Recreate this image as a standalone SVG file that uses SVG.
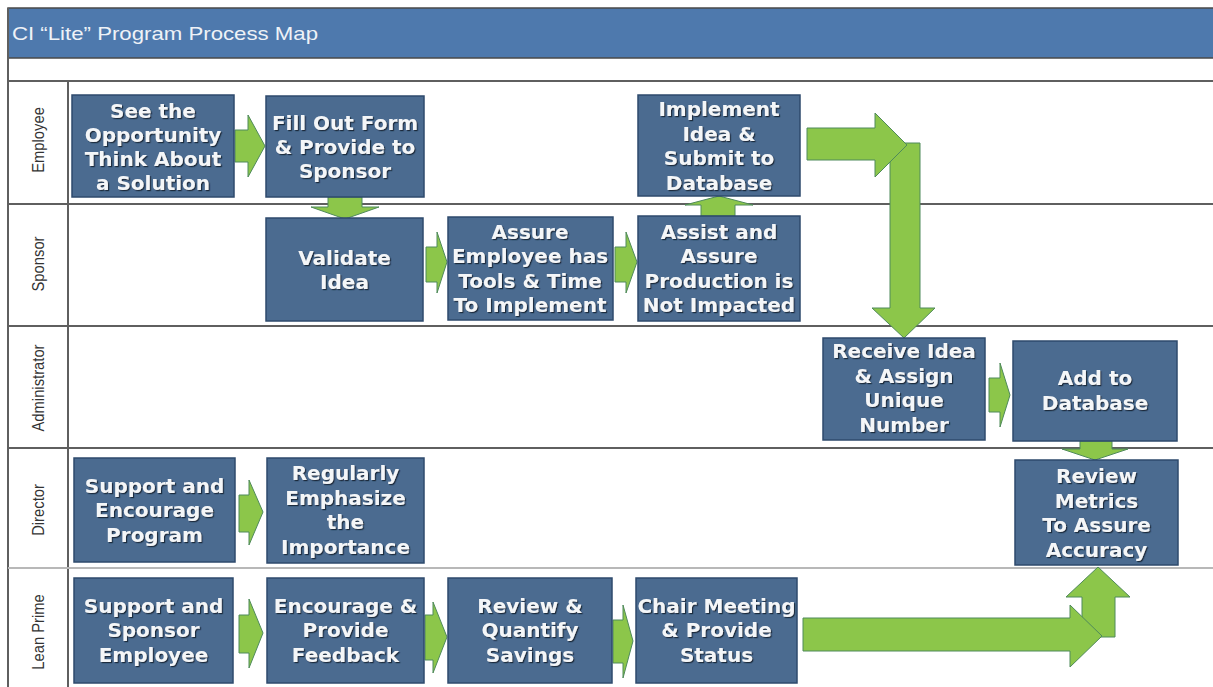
<svg xmlns="http://www.w3.org/2000/svg" width="1213" height="687" viewBox="0 0 1213 687">
<defs>
<filter id="sh" x="-10%" y="-10%" width="120%" height="130%">
<feDropShadow dx="1.2" dy="1.2" stdDeviation="0.6" flood-color="#142235" flood-opacity="0.9"/>
</filter>
<style>
.grid{stroke:#5f5f5f;stroke-width:2;fill:none}
.lane{font-family:"Liberation Sans",Arial,sans-serif;font-size:17px;fill:#333;text-anchor:middle}
.box{fill:#4b6b90;stroke:#2e4a6c;stroke-width:1.5}
.t{font-family:"DejaVu Sans",Verdana,sans-serif;font-weight:bold;font-size:20px;fill:#f4f6f8;text-anchor:middle;filter:url(#sh)}
.arr{fill:#8cc64a;stroke:#4f8a5a;stroke-width:1}
</style>
</defs>
<rect width="1213" height="687" fill="#ffffff"/>
<g id="header">
<rect x="8" y="8" width="1206" height="50" fill="#4e79ad" stroke="#4a4a4a" stroke-width="1.5"/>
<text x="12" y="40" font-family="Liberation Sans,Arial,sans-serif" font-size="19" fill="#eef2f7" textLength="306" lengthAdjust="spacingAndGlyphs">CI “Lite” Program Process Map</text>
</g>
<g id="lanes">
<line class="grid" x1="8" y1="8" x2="8" y2="687"/>
<line class="grid" x1="68" y1="82" x2="68" y2="687"/>
<line class="grid" x1="8" y1="81" x2="1213" y2="81"/>
<line class="grid" x1="8" y1="204" x2="1213" y2="204"/>
<line class="grid" x1="8" y1="326" x2="1213" y2="326"/>
<line class="grid" x1="8" y1="448" x2="1213" y2="448"/>
<line x1="8" y1="568" x2="1213" y2="568" stroke="#b8b8b8" stroke-width="2"/>
<text class="lane" transform="translate(44,140) rotate(-90) scale(0.87,1)">Employee</text>
<text class="lane" transform="translate(44,264) rotate(-90) scale(0.87,1)">Sponsor</text>
<text class="lane" transform="translate(44,388) rotate(-90) scale(0.87,1)">Administrator</text>
<text class="lane" transform="translate(44,510) rotate(-90) scale(0.87,1)">Director</text>
<text class="lane" transform="translate(44,632) rotate(-90) scale(0.87,1)">Lean Prime</text>
</g>
<g id="connectors">
<polygon class="arr" points="235,130 248,130 248,115 265,146 248,177 248,162 235,162"/>
<polygon class="arr" points="328,197 362,197 362,207 379,207 345,219 311,207 328,207"/>
<polygon class="arr" points="426,247 437,247 437,232 447,262 437,293 437,282 426,282"/>
<polygon class="arr" points="615,247 626,247 626,232 637,262 626,293 626,282 615,282"/>
<polygon class="arr" points="701,216 701,205 685,205 719,196 753,205 735,205 735,216"/>
<polygon class="arr" points="890,143 920,143 920,308 935,308 904,338 872,308 890,308"/>
<polygon class="arr" points="807,128 875,128 875,113 907,145 875,177 875,160 807,160"/>
<polygon class="arr" points="989,378 1000,378 1000,363 1010,395 1000,427 1000,412 989,412"/>
<polygon class="arr" points="1080,441 1112,441 1112,449 1128,449 1095,460 1062,449 1080,449"/>
<polygon class="arr" points="1082,637 1082,597 1066,597 1098,567 1130,597 1115,597 1115,637"/>
<polygon class="arr" points="803,618 1070,618 1070,605 1102,636 1070,667 1070,651 803,651"/>
<polygon class="arr" points="239,495 249,495 249,480 263,512 249,545 249,532 239,532"/>
<polygon class="arr" points="239,615 249,615 249,599 263,633 249,668 249,653 239,653"/>
<polygon class="arr" points="425,615 433,615 433,602 447,637 433,673 433,660 425,660"/>
<polygon class="arr" points="613,620 623,620 623,605 633,641 623,678 623,663 613,663"/>
</g>
<g id="n-see">
<rect class="box" x="72" y="95" width="162" height="102"/>
<text class="t"><tspan x="153" y="118">See the</tspan><tspan x="153" y="142">Opportunity</tspan><tspan x="153" y="166">Think  About</tspan><tspan x="153" y="190">a Solution</tspan></text>
</g>
<g id="n-fill">
<rect class="box" x="266" y="96" width="158" height="101"/>
<text class="t"><tspan x="345" y="130">Fill  Out Form</tspan><tspan x="345" y="154">&amp; Provide to</tspan><tspan x="345" y="178">Sponsor</tspan></text>
</g>
<g id="n-implement">
<rect class="box" x="638" y="95" width="162" height="101"/>
<text class="t"><tspan x="719" y="116">Implement</tspan><tspan x="719" y="140.5">Idea &amp;</tspan><tspan x="719" y="165">Submit  to</tspan><tspan x="719" y="189.5">Database</tspan></text>
</g>
<g id="n-validate">
<rect class="box" x="266" y="218" width="157" height="103"/>
<text class="t"><tspan x="344.5" y="265">Validate</tspan><tspan x="344.5" y="289">Idea</tspan></text>
</g>
<g id="n-assure">
<rect class="box" x="448" y="217" width="165" height="103"/>
<text class="t"><tspan x="530" y="238.5">Assure</tspan><tspan x="530" y="263">Employee has</tspan><tspan x="530" y="287.5">Tools &amp; Time</tspan><tspan x="530" y="312">To Implement</tspan></text>
</g>
<g id="n-assist">
<rect class="box" x="638" y="216" width="162" height="105"/>
<text class="t"><tspan x="719" y="238.5">Assist  and</tspan><tspan x="719" y="263">Assure</tspan><tspan x="719" y="287.5">Production is</tspan><tspan x="719" y="312">Not Impacted</tspan></text>
</g>
<g id="n-receive">
<rect class="box" x="823" y="338" width="162" height="102"/>
<text class="t"><tspan x="904" y="358">Receive Idea</tspan><tspan x="904" y="382.5">&amp; Assign</tspan><tspan x="904" y="407">Unique</tspan><tspan x="904" y="431.5">Number</tspan></text>
</g>
<g id="n-add">
<rect class="box" x="1013" y="341" width="164" height="100"/>
<text class="t"><tspan x="1095" y="385">Add to</tspan><tspan x="1095" y="410">Database</tspan></text>
</g>
<g id="n-support-dir">
<rect class="box" x="74" y="458" width="161" height="104"/>
<text class="t"><tspan x="154.5" y="492.5">Support  and</tspan><tspan x="154.5" y="517">Encourage</tspan><tspan x="154.5" y="541.5">Program</tspan></text>
</g>
<g id="n-regularly">
<rect class="box" x="267" y="458" width="157" height="105"/>
<text class="t"><tspan x="345.5" y="480">Regularly</tspan><tspan x="345.5" y="504.5">Emphasize</tspan><tspan x="345.5" y="529">the</tspan><tspan x="345.5" y="553.5">Importance</tspan></text>
</g>
<g id="n-review-metrics">
<rect class="box" x="1015" y="460" width="163" height="105"/>
<text class="t"><tspan x="1096.5" y="483">Review</tspan><tspan x="1096.5" y="507.5">Metrics</tspan><tspan x="1096.5" y="532">To Assure</tspan><tspan x="1096.5" y="556.5">Accuracy</tspan></text>
</g>
<g id="n-support-lean">
<rect class="box" x="74" y="578" width="159" height="105"/>
<text class="t"><tspan x="153.5" y="612.5">Support  and</tspan><tspan x="153.5" y="637">Sponsor</tspan><tspan x="153.5" y="661.5">Employee</tspan></text>
</g>
<g id="n-encourage">
<rect class="box" x="267" y="578" width="157" height="105"/>
<text class="t"><tspan x="345.5" y="612.5">Encourage &amp;</tspan><tspan x="345.5" y="637">Provide</tspan><tspan x="345.5" y="661.5">Feedback</tspan></text>
</g>
<g id="n-review-savings">
<rect class="box" x="448" y="578" width="164" height="105"/>
<text class="t"><tspan x="530" y="612.5">Review  &amp;</tspan><tspan x="530" y="637">Quantify</tspan><tspan x="530" y="661.5">Savings</tspan></text>
</g>
<g id="n-chair">
<rect class="box" x="636" y="578" width="161" height="105"/>
<text class="t"><tspan x="716.5" y="612.5">Chair Meeting</tspan><tspan x="716.5" y="637">&amp; Provide</tspan><tspan x="716.5" y="661.5">Status</tspan></text>
</g>
</svg>
